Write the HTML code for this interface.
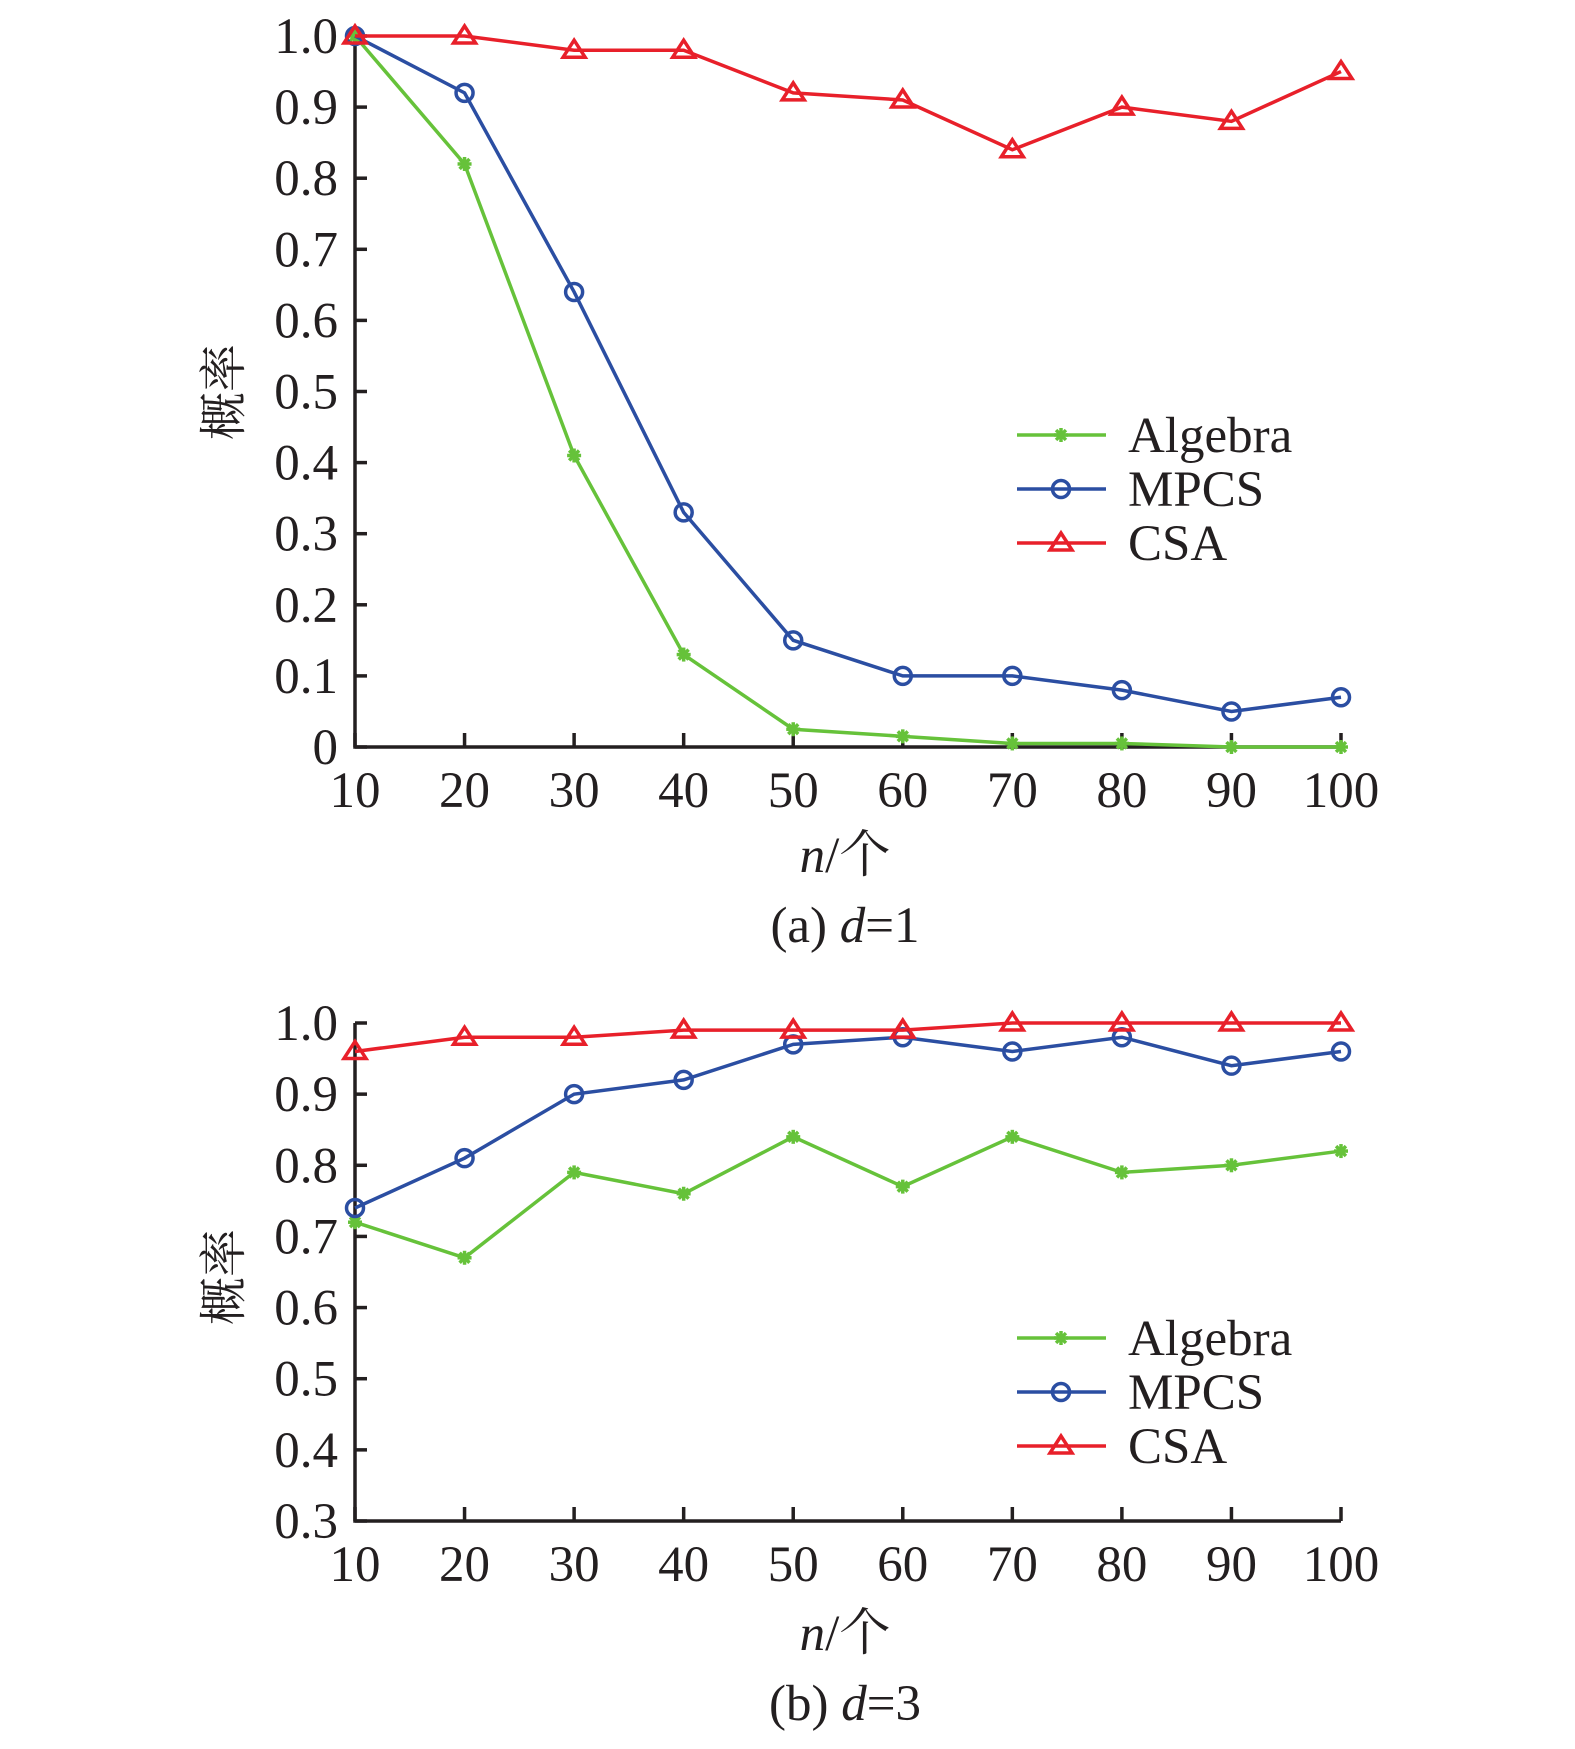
<!DOCTYPE html>
<html><head><meta charset="utf-8"><style>
html,body{margin:0;padding:0;background:#fff;}
svg text{font-family:"Liberation Serif","Noto Serif CJK SC",serif;fill:#231f20;}
</style></head><body>
<svg id="svg" width="1575" height="1744" xmlns="http://www.w3.org/2000/svg"></svg>
<script>
const categories=[10,20,30,40,50,60,70,80,90,100];
const seriesNames=["Algebra","MPCS","CSA"];
const a_algebra=[1,0.82,0.41,0.13,0.025,0.015,0.005,0.005,0,0];
const a_mpcs=[1,0.92,0.64,0.33,0.15,0.10,0.10,0.08,0.05,0.07];
const a_csa=[1,1,0.98,0.98,0.92,0.91,0.84,0.90,0.88,0.95];
const b_algebra=[0.72,0.67,0.79,0.76,0.84,0.77,0.84,0.79,0.80,0.82];
const b_mpcs=[0.74,0.81,0.90,0.92,0.97,0.98,0.96,0.98,0.94,0.96];
const b_csa=[0.96,0.98,0.98,0.99,0.99,0.99,1,1,1,1];
const a_yticks=[0,0.1,0.2,0.3,0.4,0.5,0.6,0.7,0.8,0.9,1.0];
const a_ytickLabels=["0","0.1","0.2","0.3","0.4","0.5","0.6","0.7","0.8","0.9","1.0"];
const b_yticks=[0.3,0.4,0.5,0.6,0.7,0.8,0.9,1.0];
const b_ytickLabels=["0.3","0.4","0.5","0.6","0.7","0.8","0.9","1.0"];

const NS="http://www.w3.org/2000/svg";
const svg=document.getElementById('svg');
const colors=["#66c23a","#2b4ea2","#e8202a"];
const FS=51;
function el(tag,attrs,parent){const e=document.createElementNS(NS,tag);for(const k in attrs)e.setAttribute(k,attrs[k]);(parent||svg).appendChild(e);return e;}
function txt(s,x,y,size,anchor,parent){const t=el('text',{x:x,y:y,'font-size':size,'text-anchor':anchor||'middle'},parent);t.textContent=s;return t;}
function marker(type,x,y,c,g){
  if(type===0){for(let i=0;i<4;i++){const a=i*Math.PI/4;el('line',{x1:x-7*Math.cos(a),y1:y-7*Math.sin(a),x2:x+7*Math.cos(a),y2:y+7*Math.sin(a),stroke:c,'stroke-width':3.5},g);}}
  else if(type===1){el('circle',{cx:x,cy:y,r:8.5,fill:'none',stroke:c,'stroke-width':3.5},g);}
  else{el('polygon',{points:`${x},${y-10} ${x-11},${y+7} ${x+11},${y+7}`,fill:'none',stroke:c,'stroke-width':3.5},g);}
}
function chart(o){
  const g=el('g',{});
  
  
  const x0=355,x1=1341;
  const xs=v=>x0+(v-10)/90*(x1-x0);
  const ys=v=>o.yb-(v-o.ymin)/(o.ymax-o.ymin)*(o.yb-o.yt);
  const ax=el('path',{d:`M${x0},${o.yt} L${x0},${o.yb} L${x1},${o.yb}`,fill:'none',stroke:'#231f20','stroke-width':3.5},g);
  
  
  o.yt_.forEach((v,i)=>{
    el('line',{x1:x0,y1:ys(v),x2:x0+12,y2:ys(v),stroke:'#231f20','stroke-width':3.5},g);
    const t=txt(o.yl[i],338,ys(v)+17,FS,'end',g);
    
    
  });
  categories.forEach(c=>{
    el('line',{x1:xs(c),y1:o.yb,x2:xs(c),y2:o.yb-14,stroke:'#231f20','stroke-width':3.5},g);
    const t=txt(String(c),xs(c),o.yb+60,FS,'middle',g);
    
    
  });
  o.series.forEach((s,si)=>{
    const p=el('polyline',{points:s.map((v,i)=>xs(categories[i])+','+ys(v)).join(' '),fill:'none',stroke:colors[si],'stroke-width':3.5},g);
    
    
    s.forEach((v,i)=>marker(si,xs(categories[i]),ys(v),colors[si],g));
  });
  const yt=el('text',{x:0,y:0,'font-size':48,'text-anchor':'middle',transform:`translate(240,${o.ytitle}) rotate(-90)`},g);
  yt.textContent='概率';
  
  
  const xt=el('text',{x:845,y:o.xtitle,'font-size':FS,'text-anchor':'middle'},g);
  xt.innerHTML='<tspan font-style="italic">n</tspan>/个';
  
  
  const cap=el('text',{x:845,y:o.cap,'font-size':FS,'text-anchor':'middle'},g);
  cap.innerHTML=o.capHtml;
  
  
  o.leg.forEach((ly,si)=>{
    const lg=el('g',{},g);
    
    
    el('line',{x1:1017,y1:ly,x2:1106,y2:ly,stroke:colors[si],'stroke-width':3.5},lg);
    marker(si,1061,ly,colors[si],lg);
    txt(seriesNames[si],1128,ly+17,FS,'start',lg);
  });
}
chart({name:'chart-a',yt:36,yb:747,ymin:0,ymax:1,yt_:a_yticks,yl:a_ytickLabels,series:[a_algebra,a_mpcs,a_csa],ytitle:392,xtitle:872,cap:942,capHtml:'(a) <tspan font-style="italic">d</tspan>=1',leg:[435,489,543]});
chart({name:'chart-b',yt:1023,yb:1521,ymin:0.3,ymax:1,yt_:b_yticks,yl:b_ytickLabels,series:[b_algebra,b_mpcs,b_csa],ytitle:1277,xtitle:1650,cap:1720,capHtml:'(b) <tspan font-style="italic">d</tspan>=3',leg:[1338,1392,1446]});
</script>
</body></html>
